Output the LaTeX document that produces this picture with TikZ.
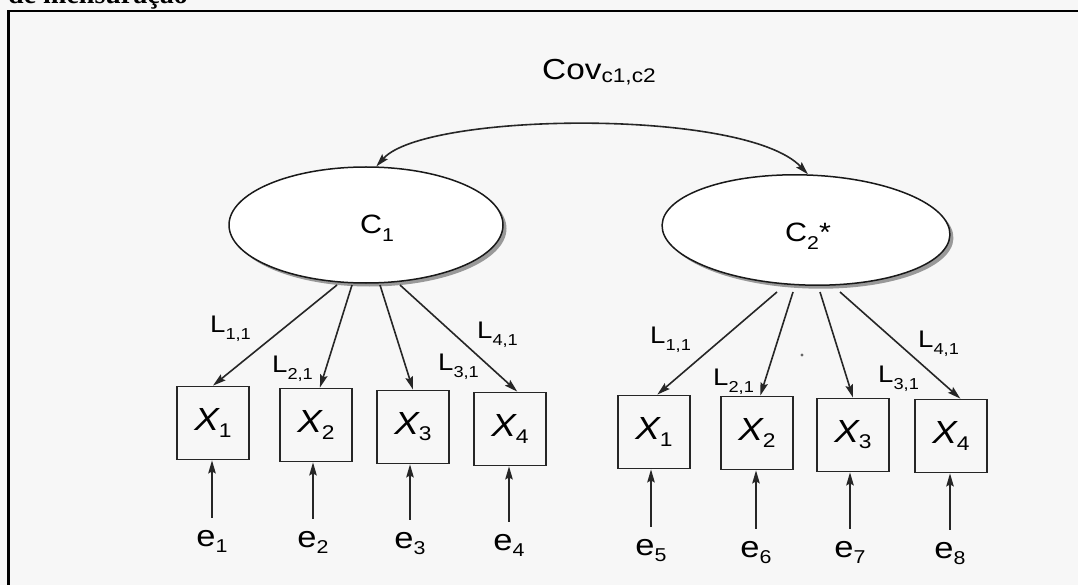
\documentclass[tikz,border=0pt]{standalone}
\usepackage{fontspec}
\setmainfont{Liberation Sans}[FakeStretch=1.15]
\newfontfamily\topserif{Liberation Serif}
\usetikzlibrary{shapes.geometric,arrows.meta,shadows}
\newcommand\sbs[3]{\raisebox{-#1em}{\scalebox{#2}{#3}}}
\begin{document}
\begin{tikzpicture}[x=1pt,y=-1pt,
  lat/.style={ellipse, draw=black!90, line width=1.5pt, fill=white, inner sep=0pt,
    drop shadow={shadow xshift=3.5pt, shadow yshift=-3.5pt, fill=black!40, opacity=1}},
  ind/.style={rectangle, draw=black!85, line width=1.8pt, minimum width=72pt,
    minimum height=73pt, inner sep=0pt, font=\fontsize{32}{36}\selectfont},
  err/.style={inner sep=0pt, anchor=base, font=\fontsize{30}{34}\selectfont},
  ld/.style={inner sep=0pt, anchor=base west, font=\fontsize{24}{28}\selectfont},
  clab/.style={inner sep=0pt, anchor=base west, font=\fontsize{26.5}{30}\selectfont},
  tip/.tip={Stealth[length=13pt,width=7.5pt,inset=2pt]},
  arr/.style={draw=black!85, line width=1.6pt, -tip},
  arrb/.style={draw=black!85, line width=1.6pt, tip-tip}
]
\useasboundingbox (0,0) rectangle (1078,585);
\clip (0,0) rectangle (1078,585);
\fill[black!3] (0,0) rectangle (1078,585);

% cut-off caption and frame
\node[inner sep=0pt, anchor=base west, font=\topserif\bfseries\fontsize{28}{32}\selectfont] (cap) at (8,3.5) {de mensuração};
\draw[line width=2.8pt] (8.7,600) -- (8.7,11) -- (1090,11);

% latent variables
\node[lat, minimum width=274pt, minimum height=116pt] (C1) at (366,225) {};
\node[lat, minimum width=288pt, minimum height=110pt, rotate=-2] (C2) at (806,230) {};
\node[clab] (c1lab) at (360,234) {C\sbs{0.3}{0.7}{1}};
\node[clab] (c2lab) at (785,242) {C\sbs{0.3}{0.7}{2}*};

% covariance
\node[inner sep=0pt, anchor=base west, font=\fontsize{29}{33}\selectfont] (cov) at (542,80) {Cov\sbs{0.1}{0.68}{c1,c2}};
\draw[arrb] (C1.80) .. controls (425,112) and (745,108) .. (C2.north);

% indicators
\node[ind] (a1) at (213,423) {{\itshape X}\sbs{0.19}{0.62}{1}};
\node[ind] (a2) at (316,425) {{\itshape X}\sbs{0.19}{0.62}{2}};
\node[ind] (a3) at (413,427) {{\itshape X}\sbs{0.19}{0.62}{3}};
\node[ind] (a4) at (510,429) {{\itshape X}\sbs{0.19}{0.62}{4}};
\node[ind] (b1) at (654,432) {{\itshape X}\sbs{0.19}{0.62}{1}};
\node[ind] (b2) at (757,433) {{\itshape X}\sbs{0.19}{0.62}{2}};
\node[ind] (b3) at (853,435) {{\itshape X}\sbs{0.19}{0.62}{3}};
\node[ind] (b4) at (951,436) {{\itshape X}\sbs{0.19}{0.62}{4}};

% loading start points
\coordinate (s11) at (337,285);
\coordinate (s12) at (352,285);
\coordinate (s13) at (380,285);
\coordinate (s14) at (400,285);
\coordinate (s21) at (777,292);
\coordinate (s22) at (793,292);
\coordinate (s23) at (820,292);
\coordinate (s24) at (840,292);

\draw[arr] (s11) -- (a1.north);
\draw[arr] (s12) -- (a2.84);
\draw[arr] (s13) -- (a3.north);
\draw[arr] (s14) -- (a4.79);
\draw[arr] (s21) -- (b1.85);
\draw[arr] (s22) -- (b2.85);
\draw[arr] (s23) -- (b3.north);
\draw[arr] (s24) -- (b4.76);

% loading labels
\node[ld] (l11) at (210,332) {L\sbs{0.33}{0.66}{1,1}};
\node[ld] (l21) at (272,372) {L\sbs{0.33}{0.66}{2,1}};
\node[ld] (l31) at (438,370) {L\sbs{0.33}{0.66}{3,1}};
\node[ld] (l41) at (477,338) {L\sbs{0.33}{0.66}{4,1}};
\node[ld] (m11) at (650,343) {L\sbs{0.33}{0.66}{1,1}};
\node[ld] (m21) at (713,385) {L\sbs{0.33}{0.66}{2,1}};
\node[ld] (m31) at (878,382) {L\sbs{0.33}{0.66}{3,1}};
\node[ld] (m41) at (918,347) {L\sbs{0.33}{0.66}{4,1}};

% errors
\node[err] (e1) at (212,546) {e\sbs{0.23}{0.62}{1}};
\node[err] (e2) at (313,547) {e\sbs{0.23}{0.62}{2}};
\node[err] (e3) at (410,548) {e\sbs{0.23}{0.62}{3}};
\node[err] (e4) at (509,550) {e\sbs{0.23}{0.62}{4}};
\node[err] (e5) at (651,555) {e\sbs{0.23}{0.62}{5}};
\node[err] (e6) at (756,557) {e\sbs{0.23}{0.62}{6}};
\node[err] (e7) at (850,557) {e\sbs{0.23}{0.62}{7}};
\node[err] (e8) at (950,558) {e\sbs{0.23}{0.62}{8}};

\foreach \e/\x in {e1/a1,e2/a2,e3/a3,e4/a4,e5/b1,e6/b2,e7/b3,e8/b4}
  \draw[arr] ([yshift=12pt]\e.north) -- (\e.north |- \x.south);

% stray dot
\fill[black!60] (802,355) circle (1.6);
\end{tikzpicture}
\end{document}
